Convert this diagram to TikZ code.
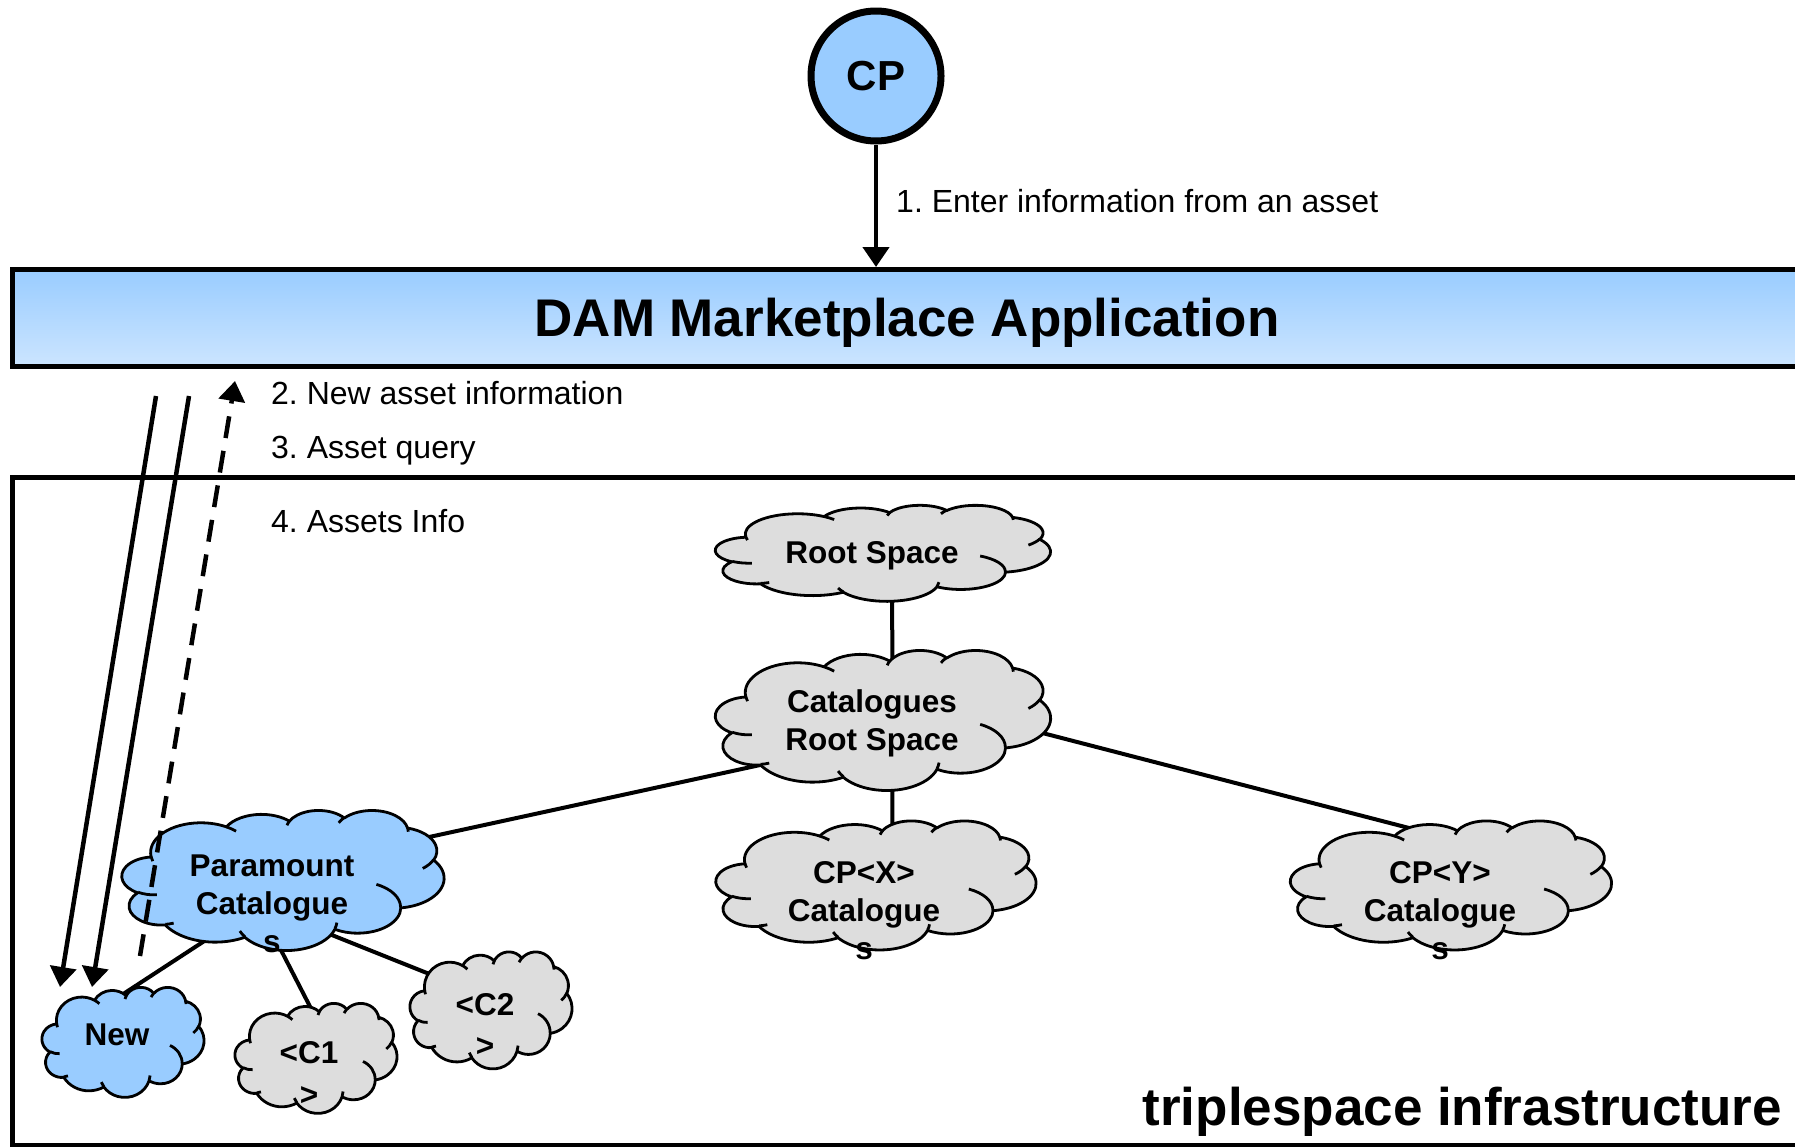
\documentclass[tikz,border=0pt]{standalone}
\usepackage{fontspec}
\setmainfont{Liberation Sans}
\usetikzlibrary{shapes.geometric,arrows.meta}
\definecolor{cpblue}{HTML}{99CCFF}
\definecolor{lightblue}{HTML}{CCE5FF}
\definecolor{cgray}{HTML}{DDDDDD}
% arc of the office cloud outline: wR hR stAng swAng (path units 43200 -> 432)
\newcommand\arcspec[4]{arc[start angle=\fpeval{round(atand(#1*sind(#3/60000),#2*cosd(#3/60000)),4)},
 delta angle=\fpeval{round((atand(#1*sind((#3+#4)/60000),#2*cosd((#3+#4)/60000))-atand(#1*sind(#3/60000),#2*cosd(#3/60000)))
   + ((#4>0) ? (((atand(#1*sind((#3+#4)/60000),#2*cosd((#3+#4)/60000))-atand(#1*sind(#3/60000),#2*cosd(#3/60000)))<0) ? 360 : 0)
            : (((atand(#1*sind((#3+#4)/60000),#2*cosd((#3+#4)/60000))-atand(#1*sind(#3/60000),#2*cosd(#3/60000)))>0) ? -360 : 0)),4)},
 x radius=\fpeval{#1/100}, y radius=\fpeval{#2/100}] }
\edef\cloudouter{(39.00,143.70)
 \arcspec{6753}{9190}{-11429249}{7426832}
 \arcspec{5333}{7267}{-8646143}{5396714}
 \arcspec{4365}{5945}{-8748475}{5983381}
 \arcspec{4857}{6595}{-7859164}{7034504}
 \arcspec{5333}{7273}{-4722533}{6541615}
 \arcspec{6775}{9220}{-2776035}{7816140}
 \arcspec{5785}{7867}{37501}{6842000}
 \arcspec{6752}{9215}{1347096}{6910353}
 \arcspec{7720}{10543}{3974558}{4542661}
 \arcspec{4360}{5918}{-16496525}{8804134}
 \arcspec{4345}{5945}{-14809710}{9151131} -- cycle}
\edef\cloudinner{
 (46.93,261.77) \arcspec{4345}{5945}{5204520}{1585770}
 (69.28,348.99) \arcspec{4360}{5918}{4416628}{686848}
 (164.78,390.90) \arcspec{6752}{9215}{8257449}{844866}
 (288.27,347.51) \arcspec{6752}{9215}{387196}{959901}
 (341.29,229.54) \arcspec{5785}{7867}{-4217541}{4255042}
 (417.98,153.54) \arcspec{5333}{7273}{1819082}{1665090}
 (383.24,54.26) \arcspec{4857}{6595}{-824660}{891534}
 (290.78,39.52) \arcspec{4857}{6595}{-8950887}{1091722}
 (221.41,47.20) \arcspec{4365}{5945}{-9809656}{1061181}
 (140.00,51.92) \arcspec{6753}{9190}{-4002417}{739161}
 (41.27,157.89) \arcspec{6753}{9190}{9459261}{711490}}
\newcommand\pptcloud[5]{%
 \begin{scope}[shift={(#1-#3/2,#2-#4/2)}, xscale=#3/432, yscale=#4/432]
  \filldraw[cloudline, fill=#5] \cloudouter;
  \draw[cloudline] \cloudinner;
 \end{scope}}
\tikzset{
 cloudline/.style={draw=black, line width=2.8pt, line join=round},
 hid/.style={ellipse, inner sep=0pt, outer sep=0pt},
 cloudtext/.style={font=\fontsize{31.5}{38}\selectfont\bfseries, align=center, inner sep=0pt},
 lbl/.style={font=\fontsize{32}{38}\selectfont, anchor=west, inner sep=0pt},
 bigtext/.style={font=\fontsize{53}{60}\selectfont\bfseries, inner sep=0pt},
 conn/.style={line width=4pt},
 arr/.style={line width=4.5pt, -{Triangle[width=26pt,length=20pt]}},
}
\frenchspacing
\begin{document}
\begin{tikzpicture}[x=1pt,y=-1pt]
\useasboundingbox (0,0) rectangle (1795,1146);
\clip (0,0) rectangle (1795,1146);
\fill[white] (0,0) rectangle (1795,1146);

% boxes
\node (dam) [draw, line width=5pt, top color=cpblue, bottom color=lightblue, minimum width=1830, minimum height=97, anchor=north west, inner sep=0pt] at (10,267) {};
\node (damt) [bigtext] at (907,323) {DAM Marketplace Application};
\node (ts) [draw, line width=5pt, minimum width=1830, minimum height=668, anchor=north west, inner sep=0pt] at (10,475) {};
\node (tst) [bigtext, anchor=east] at (1782,1112) {triplespace infrastructure};

% CP
\node (cp) [circle, draw, line width=7pt, fill=cpblue, minimum size=130, inner sep=0pt, font=\fontsize{42}{48}\selectfont\bfseries] at (876,76) {CP};
\draw[arr] (cp) -- (cp |- dam.north);
\node (l1) [lbl] at (896,201) {1. Enter information from an asset};

% labels
\node (l2) [lbl] at (271,393) {2. New asset information};
\node (l3) [lbl] at (271,451) {3. Asset query};
\node (l4) [lbl] at (271,521) {4. Assets Info};

% cloud anchors (inner ellipses)
\node (root) [hid, minimum width=234.5, minimum height=67.2] at (883,553) {};
\node (cat)  [hid, minimum width=234.5, minimum height=98] at (883,720) {};
\node (cpx)  [hid, minimum width=224, minimum height=90.3] at (876,885) {};
\node (cpy)  [hid, minimum width=224.7, minimum height=90.3] at (1451,885) {};
\node (para) [hid, minimum width=225.4, minimum height=98] at (283,880) {};
\node (new)  [hid, minimum width=113.4, minimum height=77] at (123,1042) {};
\node (c1)   [hid, minimum width=113.4, minimum height=77] at (316,1058) {};
\node (c2)   [hid, minimum width=113.4, minimum height=81.9] at (491,1010) {};

% connectors (ends hidden under the clouds)
\draw[conn] (root.-75) -- (cat.79.6);
\draw[conn] (cat.-79.6) -- (cpx.70.3);
\draw[conn] (cat.204.5) -- (para.19.6);
\draw[conn] (cat.-1.9) -- (cpy.85.7);
\draw[conn] (para.220.3) -- (new.115.1);
\draw[conn] (para.-105.7) -- (c1.89.5);
\draw[conn] (para.-58.1) -- (c2.146.5);

% clouds
\pptcloud{883}{553}{335}{96}{cgray}
\pptcloud{883}{720}{335}{140}{cgray}
\pptcloud{876}{885}{320}{129}{cgray}
\pptcloud{1451}{885}{321}{129}{cgray}
\pptcloud{283}{880}{322}{140}{cpblue}
\pptcloud{123}{1042}{162}{110}{cpblue}
\pptcloud{316}{1058}{162}{110}{cgray}
\pptcloud{491}{1010}{162}{117}{cgray}

\node (roott) [cloudtext] at (872,556) {Root Space};
\node (catt)  [cloudtext] at (872,723) {Catalogues\\Root Space};
\node (cpxt)  [cloudtext] at (864,911) {CP<X>\\Catalogue\\s};
\node (cpyt)  [cloudtext] at (1440,911) {CP<Y>\\Catalogue\\s};
\node (parat) [cloudtext] at (272,904) {Paramount\\Catalogue\\s};
\node (newt)  [cloudtext] at (117,1035) {New};
\node (c1t)   [cloudtext, font=\fontsize{31.5}{42}\selectfont\bfseries] at (309,1073) {<C1\\>};
\node (c2t)   [cloudtext, font=\fontsize{31.5}{41}\selectfont\bfseries] at (485,1025) {<C2\\>};

% arrows between application and space
\coordinate (s1) at (156,396);
\coordinate (e1) at (60,987);
\coordinate (s2) at (189,396);
\coordinate (e2) at (92,987);
\coordinate (ds) at (140,956);
\coordinate (de) at (235,381);
\draw[arr] (s1) -- (e1);
\draw[arr] (s2) -- (e2);
\draw[arr, dash pattern=on 22pt off 13pt] (ds) -- (de);
\end{tikzpicture}
\end{document}
